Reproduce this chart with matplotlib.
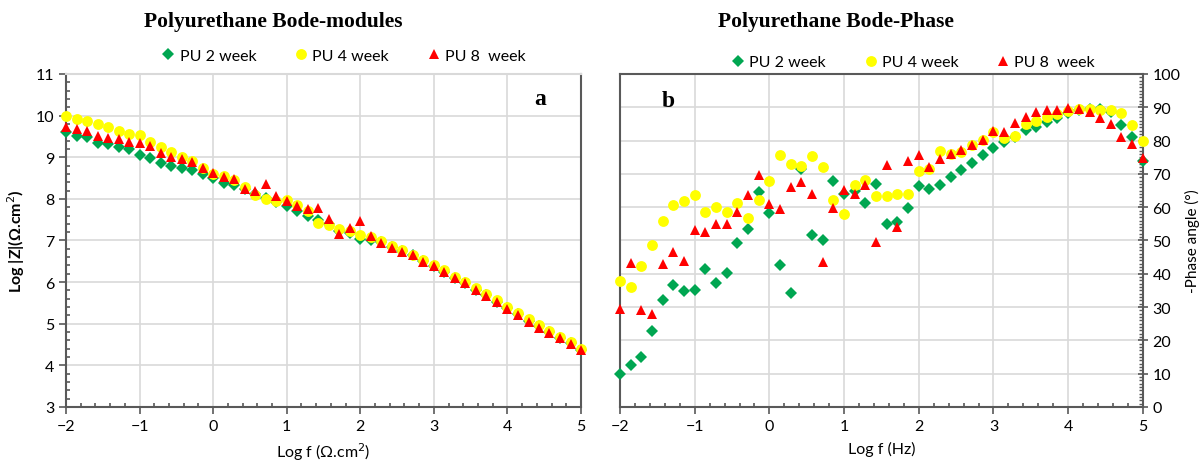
import matplotlib
matplotlib.use("Agg")
import matplotlib.pyplot as plt
from matplotlib.ticker import MultipleLocator

# log frequency steps (7 points per decade, -2 .. 5)
log_f = [-2.0, -1.857, -1.714, -1.571, -1.429, -1.286, -1.143,
         -1.0, -0.857, -0.714, -0.571, -0.429, -0.286, -0.143,
         0.0, 0.143, 0.286, 0.429, 0.571, 0.714, 0.857,
         1.0, 1.143, 1.286, 1.429, 1.571, 1.714, 1.857,
         2.0, 2.143, 2.286, 2.429, 2.571, 2.714, 2.857,
         3.0, 3.143, 3.286, 3.429, 3.571, 3.714, 3.857,
         4.0, 4.143, 4.286, 4.429, 4.571, 4.714, 4.857,
         5.0]

labels = ["PU 2 week", "PU 4 week", "PU 8  week"]

# Bode modulus, log|Z|
logz_2wk = [9.60, 9.52, 9.49, 9.35, 9.31, 9.25, 9.19, 9.05, 8.99, 8.87,
            8.79, 8.74, 8.70, 8.60, 8.51, 8.38, 8.34, 8.23, 8.12, 8.02,
            7.92, 7.84, 7.72, 7.60, 7.49, 7.40, 7.22, 7.19, 7.03, 7.02,
            6.96, 6.85, 6.74, 6.64, 6.50, 6.39, 6.25, 6.10, 5.99, 5.82,
            5.68, 5.53, 5.38, 5.23, 5.07, 4.95, 4.80, 4.66, 4.53, 4.38]
logz_4wk = [10.00, 9.93, 9.87, 9.81, 9.73, 9.64, 9.57, 9.53, 9.37, 9.25,
            9.13, 9.00, 8.90, 8.74, 8.60, 8.56, 8.46, 8.28, 8.10, 8.00,
            7.96, 7.98, 7.86, 7.70, 7.42, 7.38, 7.27, 7.22, 7.13, 7.08,
            6.98, 6.87, 6.76, 6.66, 6.52, 6.41, 6.28, 6.13, 6.01, 5.85,
            5.71, 5.57, 5.41, 5.27, 5.11, 4.96, 4.82, 4.68, 4.55, 4.40]
logz_8wk = [9.73, 9.69, 9.63, 9.51, 9.47, 9.45, 9.37, 9.33, 9.27, 9.09,
            9.00, 8.95, 8.89, 8.73, 8.62, 8.52, 8.48, 8.24, 8.20, 8.36,
            8.08, 7.96, 7.84, 7.76, 7.78, 7.52, 7.15, 7.31, 7.48, 7.11,
            6.95, 6.83, 6.73, 6.64, 6.49, 6.38, 6.24, 6.09, 5.98, 5.80,
            5.66, 5.52, 5.36, 5.22, 5.05, 4.90, 4.78, 4.65, 4.52, 4.37]

# Bode phase, -phase angle (deg)
phase_2wk = [10.0, 12.5, 15.1, 22.8, 32.2, 36.5, 34.7, 35.1, 41.3, 37.1,
             40.3, 49.1, 53.4, 64.6, 58.4, 42.5, 34.3, 71.6, 51.6, 50.0,
             67.8, 64.1, 65.0, 61.4, 67.1, 54.9, 55.6, 59.9, 66.3, 65.5,
             66.8, 69.2, 71.2, 73.4, 75.6, 77.8, 79.6, 81.0, 83.2, 84.2,
             85.7, 86.8, 88.3, 89.3, 89.5, 89.5, 88.6, 84.7, 81.0, 73.8]
phase_4wk = [37.8, 36.0, 42.4, 48.5, 55.8, 60.7, 62.0, 63.7, 58.6, 60.2,
             58.6, 61.2, 56.8, 62.3, 67.9, 75.7, 73.1, 72.4, 75.3, 72.0,
             62.3, 57.9, 66.8, 68.1, 63.4, 63.4, 63.9, 63.9, 71.0, 71.4,
             77.0, 76.0, 76.6, 78.6, 80.2, 82.6, 80.9, 81.3, 84.9, 86.0,
             87.0, 87.9, 88.8, 89.5, 89.4, 89.3, 89.3, 88.3, 84.7, 79.8]
phase_8wk = [29.3, 43.1, 29.0, 27.8, 42.8, 46.4, 43.8, 53.2, 52.5, 55.1,
             55.1, 58.6, 63.6, 69.6, 61.1, 59.5, 66.2, 67.6, 64.1, 43.4,
             59.7, 65.1, 64.0, 66.8, 49.5, 72.7, 54.0, 73.9, 75.6, 72.2,
             74.6, 76.1, 77.1, 78.8, 80.2, 82.9, 82.7, 85.2, 87.0, 88.6,
             89.3, 89.2, 89.8, 89.5, 88.5, 86.7, 84.9, 81.1, 79.0, 74.8]

green = "#00a651"
yellow = "#ffff00"
red = "#ff0000"
spine_col = "#595959"
grid_col = "#d9d9d9"

plt.rcParams['font.family'] = ['Lato', 'DejaVu Sans']

fig = plt.figure(figsize=(12.03, 4.64), dpi=100)
ax1 = fig.add_axes([0.0549, 0.1207, 0.4281, 0.7177])
ax2 = fig.add_axes([0.5154, 0.1207, 0.4346, 0.7177])


def draw_series(ax, y2, y4, y8):
    ax.plot(log_f, y2, 'D', color=green, markersize=6, markeredgewidth=0,
            label=labels[0], clip_on=False, zorder=3)
    ax.plot(log_f, y4, 'o', color=yellow, markersize=7.8, markeredgewidth=0,
            label=labels[1], clip_on=False, zorder=4)
    ax.plot(log_f, y8, '^', color=red, markersize=7.8, markeredgewidth=0,
            label=labels[2], clip_on=False, zorder=5)


def style_axes(ax):
    ax.set_xlim(-2, 5)
    ax.xaxis.set_major_locator(MultipleLocator(1))
    ax.xaxis.set_minor_locator(MultipleLocator(0.2))
    ax.grid(True, which='major', color=grid_col, linewidth=1.2)
    ax.set_axisbelow(True)
    for s in ax.spines.values():
        s.set_color(spine_col)
        s.set_linewidth(1.5)
    ax.tick_params(axis='x', which='major', direction='out', length=5,
                   width=1.2, color=spine_col, labelsize=11.5, pad=4)
    ax.tick_params(axis='x', which='minor', direction='in', length=3,
                   width=1.2, color=spine_col)


# ---- a: Bode modulus ----
draw_series(ax1, logz_2wk, logz_4wk, logz_8wk)
style_axes(ax1)
ax1.set_ylim(3, 11)
ax1.yaxis.set_major_locator(MultipleLocator(1))
ax1.yaxis.set_minor_locator(MultipleLocator(0.2))
ax1.tick_params(axis='y', which='major', direction='out', length=5,
                width=1.2, color=spine_col, labelsize=11.5)
ax1.tick_params(axis='y', which='minor', direction='in', length=3,
                width=1.2, color=spine_col)
ax1.spines['top'].set_color(grid_col)
ax1.set_xlabel("Log f (Ω.cm$^2$)", fontsize=11.5, labelpad=5)
ax1.set_ylabel("Log |Z|(Ω.cm$^2$)", fontsize=11.5, fontweight='bold',
               labelpad=6)
ax1.text(0.92, 0.925, "a", transform=ax1.transAxes, fontsize=17,
         fontweight='bold', family='Liberation Serif', ha='center',
         va='center')
ax1.legend(loc='center', bbox_to_anchor=(0.536, 1.055), ncol=3,
           frameon=False, fontsize=11.5, handletextpad=0.1,
           columnspacing=2.2, handlelength=1.2)

# ---- b: Bode phase ----
draw_series(ax2, phase_2wk, phase_4wk, phase_8wk)
style_axes(ax2)
ax2.set_ylim(0, 100)
ax2.yaxis.tick_right()
ax2.yaxis.set_label_position('right')
ax2.yaxis.set_major_locator(MultipleLocator(10))
ax2.yaxis.set_minor_locator(MultipleLocator(1))
ax2.tick_params(axis='y', which='major', direction='inout', length=7,
                width=1.2, color=spine_col, labelsize=11.5)
ax2.tick_params(axis='y', which='minor', direction='in', length=3,
                width=1, color=spine_col)
ax2.set_xlabel("Log f (Hz)", fontsize=11.5, labelpad=5)
ax2.set_ylabel("-Phase angle (°)", fontsize=11, rotation=90, labelpad=3)
ax2.text(0.092, 0.92, "b", transform=ax2.transAxes, fontsize=17,
         fontweight='bold', family='Liberation Serif', ha='center',
         va='center')
ax2.legend(loc='center', bbox_to_anchor=(0.558, 1.035), ncol=3,
           frameon=False, fontsize=11.5, handletextpad=0.1,
           columnspacing=2.2, handlelength=1.2)

fig.text(0.227, 0.953, "Polyurethane Bode-modules", fontsize=15.5,
         fontweight='bold', family='Liberation Serif', ha='center',
         va='center')
fig.text(0.695, 0.953, "Polyurethane Bode-Phase", fontsize=15.5,
         fontweight='bold', family='Liberation Serif', ha='center',
         va='center')

fig.savefig("out.png", dpi=100)
